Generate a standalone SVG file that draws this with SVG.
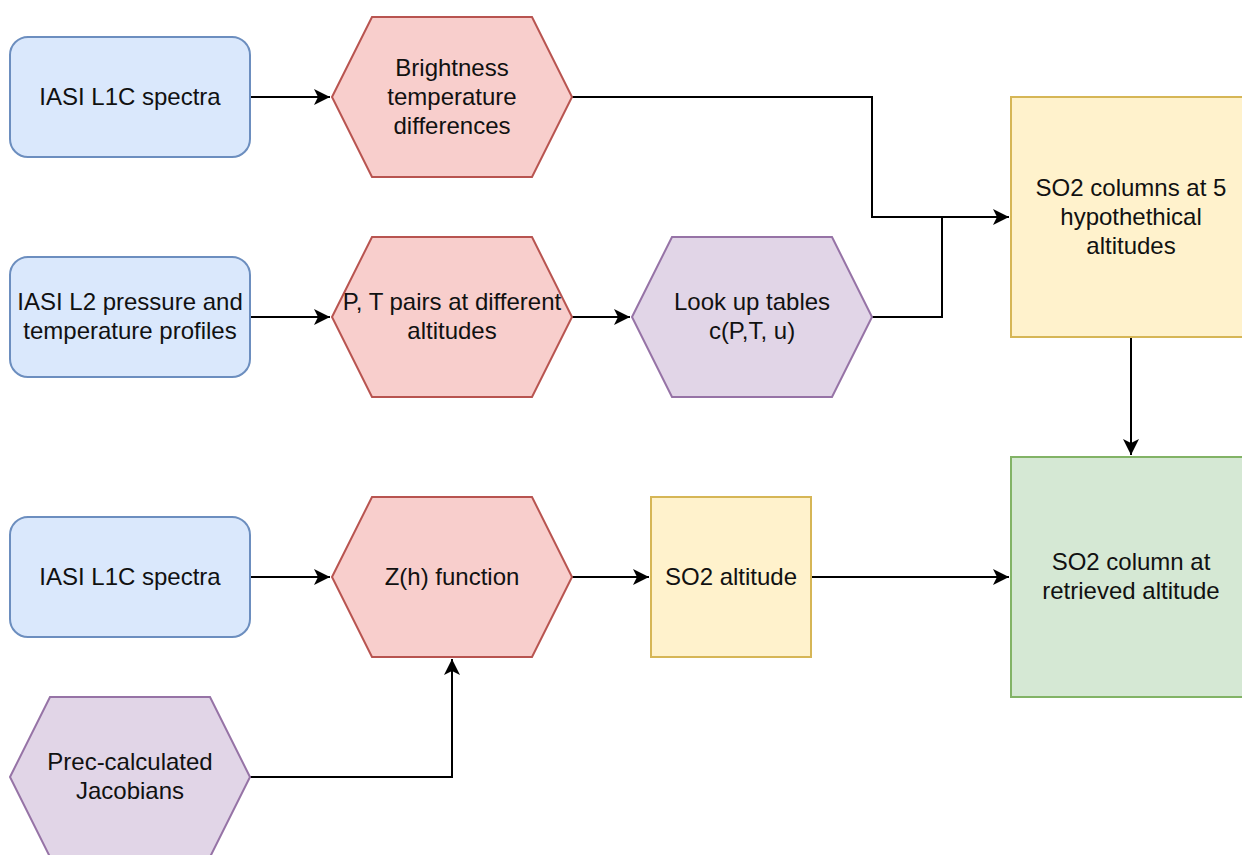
<svg xmlns="http://www.w3.org/2000/svg" width="1242" height="855" viewBox="0 0 1242 855">
<style>
.t{font-family:"Liberation Sans",Arial,Helvetica,sans-serif;font-size:24px;fill:#111;text-anchor:middle}
.blue{fill:#dae8fc;stroke:#6c8ebf;stroke-width:2}
.red{fill:#f8cecc;stroke:#b85450;stroke-width:2}
.purple{fill:#e1d5e7;stroke:#9673a6;stroke-width:2}
.yellow{fill:#fff2cc;stroke:#d6b656;stroke-width:2}
.green{fill:#d5e8d4;stroke:#82b366;stroke-width:2}
.c{fill:none;stroke:#000;stroke-width:2;marker-end:url(#arr)}
.n{fill:none;stroke:#000;stroke-width:2}
</style>
<defs>
<marker id="arr" markerUnits="userSpaceOnUse" markerWidth="18" markerHeight="16" refX="16" refY="8" orient="auto" viewBox="0 0 18 16">
<path d="M0,0 L16,8 L0,16 L4,8 Z" fill="#000"/>
</marker>
</defs>
<rect width="1242" height="855" fill="#fff"/>
<g id="connectors">
<path class="c" d="M250,97 L330,97"/>
<path class="c" d="M572,97 L872,97 L872,217 L1009,217"/>
<path class="c" d="M250,317 L330,317"/>
<path class="c" d="M572,317 L630,317"/>
<path class="n" d="M872,317 L942,317 L942,217"/>
<path class="c" d="M1131,337 L1131,455"/>
<path class="c" d="M250,577 L330,577"/>
<path class="c" d="M572,577 L649,577"/>
<path class="c" d="M811,577 L1009,577"/>
<path class="c" d="M250,777 L452,777 L452,659"/>
</g>
<g id="iasi-l1c-1">
<rect class="blue" x="10" y="37" width="240" height="120" rx="18"/>
<text class="t" x="130" y="105">IASI L1C spectra</text>
</g>
<g id="brightness">
<polygon class="red" points="332,97 372,17 532,17 572,97 532,177 372,177"/>
<text class="t" x="452" y="76">Brightness</text>
<text class="t" x="452" y="105">temperature</text>
<text class="t" x="452" y="134">differences</text>
</g>
<g id="iasi-l2">
<rect class="blue" x="10" y="257" width="240" height="120" rx="18"/>
<text class="t" x="130" y="310">IASI L2 pressure and</text>
<text class="t" x="130" y="339">temperature profiles</text>
</g>
<g id="pt-pairs">
<polygon class="red" points="332,317 372,237 532,237 572,317 532,397 372,397"/>
<text class="t" x="452" y="310">P, T pairs at different</text>
<text class="t" x="452" y="339">altitudes</text>
</g>
<g id="lookup">
<polygon class="purple" points="632,317 672,237 832,237 872,317 832,397 672,397"/>
<text class="t" x="752" y="310">Look up tables</text>
<text class="t" x="752" y="339">c(P,T, u)</text>
</g>
<g id="so2-columns">
<rect class="yellow" x="1011" y="97" width="240" height="240"/>
<text class="t" x="1131" y="196">SO2 columns at 5</text>
<text class="t" x="1131" y="225">hypothethical</text>
<text class="t" x="1131" y="254">altitudes</text>
</g>
<g id="iasi-l1c-2">
<rect class="blue" x="10" y="517" width="240" height="120" rx="18"/>
<text class="t" x="130" y="585">IASI L1C spectra</text>
</g>
<g id="zh">
<polygon class="red" points="332,577 372,497 532,497 572,577 532,657 372,657"/>
<text class="t" x="452" y="585">Z(h) function</text>
</g>
<g id="so2-altitude">
<rect class="yellow" x="651" y="497" width="160" height="160"/>
<text class="t" x="731" y="585">SO2 altitude</text>
</g>
<g id="so2-column-retrieved">
<rect class="green" x="1011" y="457" width="240" height="240"/>
<text class="t" x="1131" y="570">SO2 column at</text>
<text class="t" x="1131" y="599">retrieved altitude</text>
</g>
<g id="jacobians">
<polygon class="purple" points="10,777 50,697 210,697 250,777 210,857 50,857"/>
<text class="t" x="130" y="770">Prec-calculated</text>
<text class="t" x="130" y="799">Jacobians</text>
</g>
</svg>
